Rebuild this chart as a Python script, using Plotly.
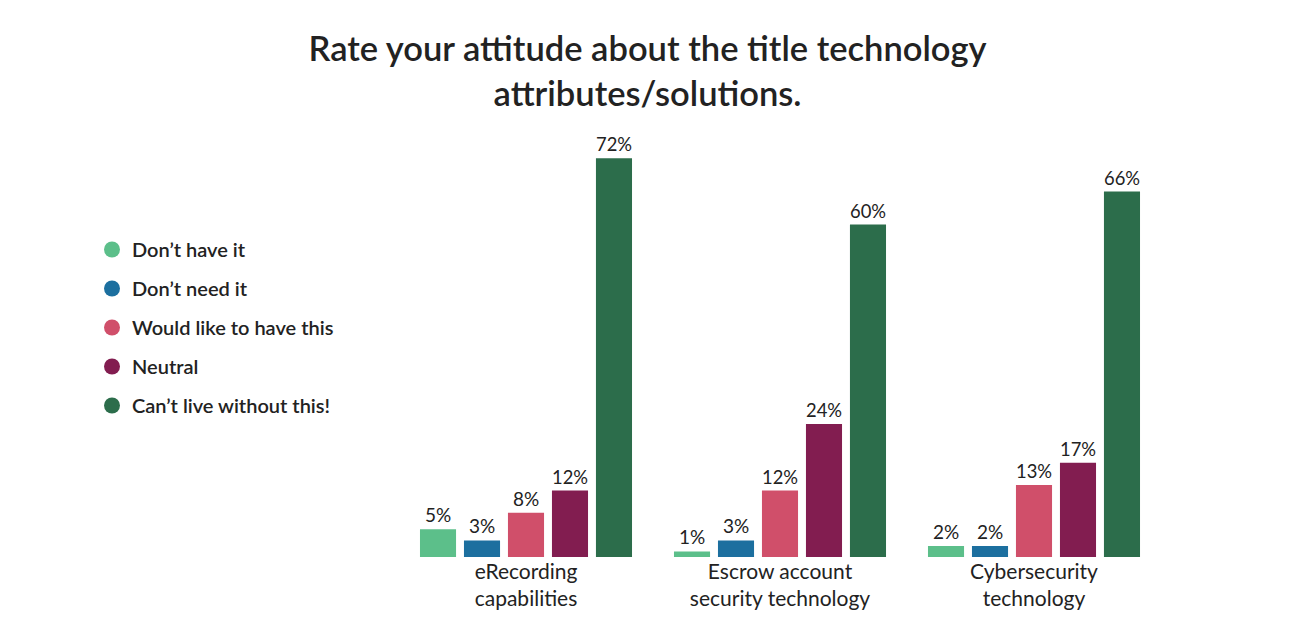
import plotly.graph_objects as go

categories = ["eRecording<br>capabilities", "Escrow account<br>security technology", "Cybersecurity<br>technology"]
series_names = ["Don’t have it", "Don’t need it", "Would like to have this", "Neutral", "Can’t live without this!"]
dont_have = [5, 1, 2]
dont_need = [3, 3, 2]
would_like = [8, 12, 13]
neutral = [12, 24, 17]
cant_live = [72, 60, 66]
colors = ["#5cbf8a", "#1c6f9f", "#d04f6a", "#821d50", "#2c6d4b"]

series_values = [dont_have, dont_need, would_like, neutral, cant_live]
FONT = "Lato"
TXT = "#222222"

fig = go.Figure()
for name, vals, col in zip(series_names, series_values, colors):
    fig.add_trace(go.Bar(
        x=categories, y=vals, name=name, marker_color=col,
        marker_line_width=0, showlegend=False,
        text=[f"{v}%" for v in vals], textposition="outside",
        textfont=dict(family=FONT, size=19, color=TXT), cliponaxis=False,
    ))
for i, (name, col) in enumerate(zip(series_names, colors)):
    fig.add_trace(go.Scatter(
        x=[None], y=[None], mode="markers", name=name, legendgroup=f"g{i}",
        marker=dict(symbol="circle", size=18, color=col),
    ))

fig.update_layout(
    width=1292, height=634,
    paper_bgcolor="white", plot_bgcolor="white",
    margin=dict(l=391, r=139, t=123, b=85),
    barmode="group", bargap=0.134, bargroupgap=0.18,
    title=dict(
        text="Rate your attitude about the title technology<br>attributes/solutions.",
        x=0.495, xanchor="center", y=1 - 53 / 634, yanchor="top",
        font=dict(family=FONT, size=34.5, color=TXT, weight=600),
    ),
    legend=dict(
        xref="container", yref="container", x=84 / 1292, y=1 - 222 / 634,
        xanchor="left", yanchor="top", tracegroupgap=10,
        font=dict(family=FONT, size=20, color=TXT, weight=600),
        bgcolor="rgba(0,0,0,0)",
    ),
    xaxis=dict(showgrid=False, showline=False, ticks="",
               tickfont=dict(family=FONT, size=21, color=TXT)),
    yaxis=dict(range=[0, 76.9], visible=False, showgrid=False, zeroline=False),
)
fig.write_html("out.html")
